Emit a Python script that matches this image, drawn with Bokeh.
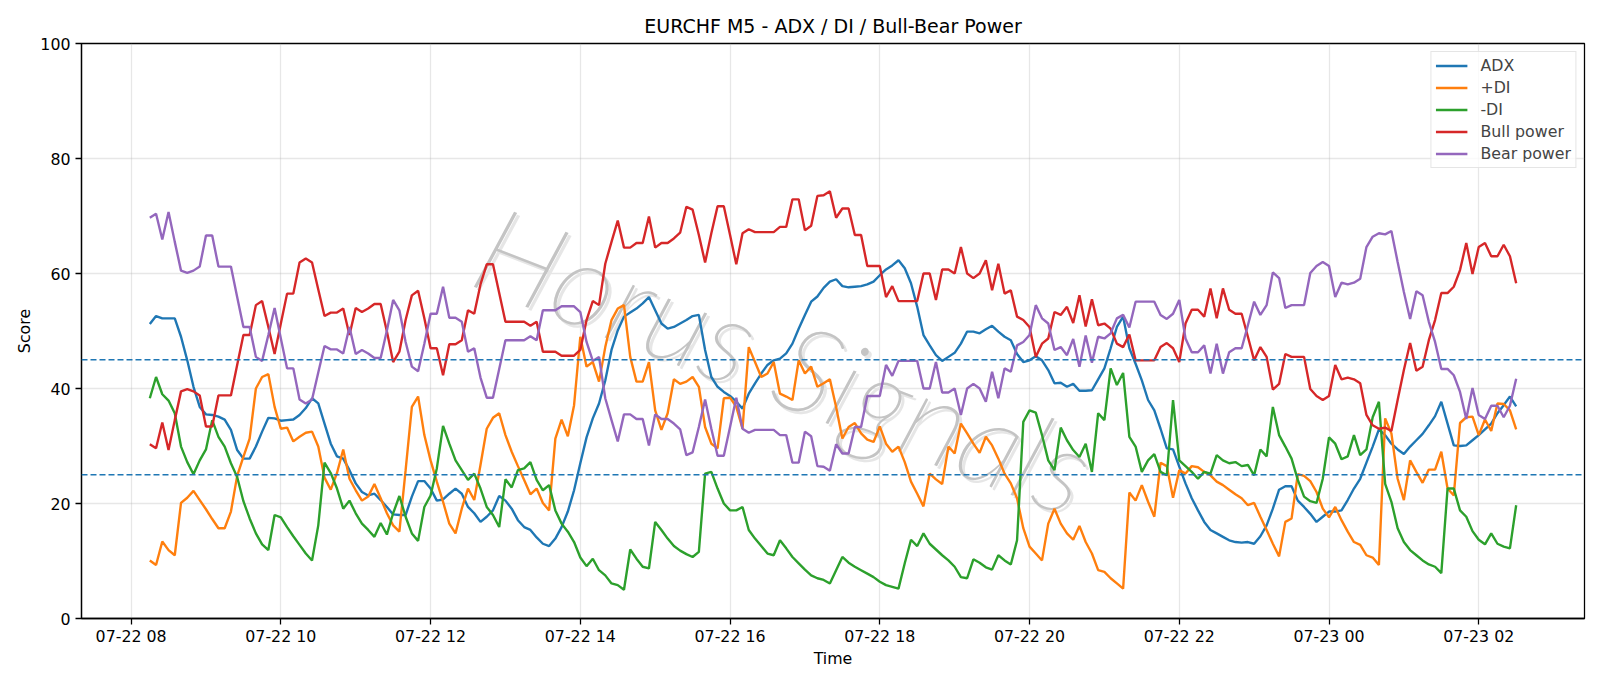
import pandas as pd
from bokeh.plotting import figure
from bokeh.models import (ColumnDataSource, Span, Legend, LegendItem, Label,
                          SingleIntervalTicker, DatetimeTickFormatter, Range1d)
from bokeh.embed import file_html
from bokeh.resources import INLINE

# ---- data: EURCHF 5-minute bars, indicator scores (0-100) ----
title = "EURCHF M5 - ADX / DI / Bull-Bear Power"
start_time = "2025-07-22 08:15"
bar_step = "5min"

adx = [
    51.2, 52.6, 52.2, 52.2, 52.2, 49.0, 44.9, 40.3, 36.8, 35.5, 35.4, 35.1, 34.6, 32.8, 29.3, 27.8,
    27.8, 29.9, 32.5, 34.9, 34.8, 34.4, 34.5, 34.6, 35.4, 36.6, 38.3, 37.4, 33.9, 30.4, 28.2, 27.8, 25.8,
    23.5, 22.0, 21.4, 21.7, 20.6, 19.4, 18.1, 18.0, 18.0, 21.2, 23.9, 23.9, 22.6, 20.5, 20.7, 21.7,
    22.6, 21.7, 19.4, 18.3, 16.8, 17.7, 18.8, 21.3, 20.5, 19.1, 17.1, 15.9, 15.4, 14.1, 13.0, 12.6,
    13.9, 15.9, 18.6, 22.3, 27.0, 31.5,
    34.8, 37.4, 41.4, 46.7, 50.1, 52.5, 53.2, 53.9, 54.8, 55.9, 53.6, 51.3, 50.4, 50.7, 51.3, 51.9,
    52.6, 52.8, 46.7, 42.0, 40.3, 39.4, 38.7, 37.7, 36.5, 39.1, 40.9, 42.6, 44.1, 44.9, 45.2, 46.1,
    47.8, 50.4, 52.8, 55.1, 56.0, 57.5, 58.6,
    59.0, 57.8, 57.6, 57.7, 57.8, 58.1, 58.6, 59.7, 60.7, 61.4, 62.3, 60.9, 58.3, 54.2, 49.3, 47.5,
    45.8, 44.8, 45.5, 46.2, 47.8, 49.9, 49.9, 49.6, 50.3, 50.9, 49.9, 49.0, 48.4, 46.0, 44.6, 44.9,
    45.6, 44.9, 43.2, 40.9, 41.0, 40.3,
    40.8, 39.6, 39.6, 39.7, 41.6, 43.5, 47.0, 50.7, 52.5, 47.0, 44.3, 41.4, 38.0, 36.2, 33.0, 29.6,
    29.4, 26.4, 23.5, 20.9, 18.8, 16.8, 15.4, 14.8, 14.2, 13.6, 13.3, 13.2, 13.3, 13.0, 14.3, 16.2,
    19.1, 22.4, 23.0, 23.0, 20.5, 19.4, 18.2,
    16.8, 17.7, 18.6, 18.6, 18.8, 20.6, 22.6, 24.3, 27.1, 29.9, 32.9, 31.9, 30.4, 29.4, 28.6, 29.9,
    31.0, 32.1, 33.6, 35.2, 37.7, 33.9, 30.1, 30.0, 30.1, 31.0, 31.9, 32.9, 33.9, 35.7, 37.1, 38.6, 36.9,
]

plus_di = [
    10.1, 9.3, 13.4, 11.9, 11.0, 20.1, 21.0, 22.2, 20.6, 19.0, 17.3, 15.7, 15.7, 18.6, 24.8, 28.1,
    31.3, 40.0, 42.0, 42.5, 36.8, 33.0, 33.2, 30.8, 31.6, 32.3, 32.5, 29.9, 24.5, 22.4, 25.3, 29.4, 24.3,
    22.3, 20.5, 21.2, 23.4, 20.9, 18.3, 16.2, 15.1, 25.8, 36.8, 38.6, 31.9, 27.5, 23.8, 20.3, 16.5,
    14.8, 19.1, 22.6, 20.6, 26.7, 33.0, 34.9, 35.7, 31.9, 29.0, 26.5, 24.1, 21.6, 22.6, 20.1, 18.8,
    31.3, 34.6, 31.7, 37.1, 49.0, 43.8,
    44.6, 41.2, 47.2, 51.9, 53.9, 54.5, 45.5, 41.2, 41.2, 44.6, 36.2, 32.8, 35.7, 41.6, 40.8, 41.2,
    42.0, 40.3, 33.3, 30.4, 29.6, 38.3, 38.4, 36.8, 33.0, 47.2, 44.6, 42.0, 42.6, 44.6, 39.1, 38.6,
    38.0, 44.9, 42.6, 43.8, 40.3, 40.9, 41.6,
    36.8, 31.3, 33.3, 34.0, 32.2, 31.1, 30.7, 33.4, 30.4, 29.0, 29.9, 27.2, 23.8, 21.7, 19.5, 25.2,
    24.2, 23.4, 29.9, 28.7, 33.9, 32.2, 30.4, 28.8, 31.6, 30.1, 27.8, 25.2, 23.5, 20.9, 15.7, 12.5,
    11.3, 10.1, 16.5, 19.1, 16.5, 14.8,
    13.7, 16.1, 13.3, 11.3, 8.4, 8.1, 7.0, 6.1, 5.2, 21.9, 20.5, 23.2, 20.3, 17.7, 27.1, 26.5,
    21.0, 25.8, 25.2, 26.5, 26.3, 25.5, 24.9, 23.8, 23.2, 22.4, 21.6, 20.9, 19.7, 20.1, 17.7, 15.4,
    13.0, 10.8, 16.8, 17.4, 25.1, 24.8, 23.9,
    22.0, 19.1, 17.6, 19.4, 17.1, 15.1, 13.3, 12.8, 11.0, 10.6, 9.3, 34.8, 32.2, 24.3, 20.6, 27.5,
    25.5, 23.6, 25.9, 25.9, 29.0, 22.6, 21.4, 34.0, 35.0, 35.1, 31.9, 34.6, 32.6, 37.4, 37.3, 36.2, 32.9,
]

minus_di = [
    38.3, 42.0, 39.0, 37.9, 35.7, 29.9, 27.2, 25.1, 27.5, 29.4, 34.5, 31.6, 29.9, 27.0, 24.6, 20.4,
    17.4, 14.8, 12.9, 11.9, 18.0, 17.6, 15.9, 14.3, 12.8, 11.3, 10.1, 16.2, 27.1, 25.3, 22.6, 19.1, 20.5,
    18.3, 16.5, 15.4, 14.2, 16.6, 14.6, 18.3, 21.3, 17.7, 14.8, 13.5, 19.4, 21.4, 26.1, 33.5, 30.4,
    27.5, 25.8, 24.1, 25.2, 22.6, 19.4, 18.0, 15.9, 24.2, 22.8, 25.8, 26.1, 27.2, 24.1, 22.3, 23.2,
    18.8, 16.5, 15.1, 13.3, 10.6, 9.1,
    10.4, 8.4, 7.5, 6.1, 5.8, 5.0, 12.0, 10.4, 9.0, 8.7, 16.8, 15.4, 13.9, 12.6, 11.8, 11.2,
    10.7, 11.6, 25.2, 25.5, 22.6, 20.0, 18.8, 18.8, 19.4, 15.4, 13.9, 12.6, 11.3, 11.0, 13.6, 12.2,
    10.7, 9.6, 8.5, 7.5, 7.0, 6.7, 6.1,
    8.4, 10.7, 9.7, 9.0, 8.4, 7.8, 7.2, 6.4, 5.8, 5.5, 5.2, 9.6, 13.7, 12.6, 14.8, 13.0,
    12.0, 11.0, 10.1, 9.0, 7.2, 7.0, 10.3, 9.7, 8.9, 8.5, 11.0, 10.1, 9.4, 13.6, 34.2, 36.2,
    35.8, 31.9, 27.5, 25.8, 33.2, 31.0,
    29.3, 28.1, 30.4, 25.5, 35.7, 34.5, 43.5, 40.6, 42.7, 31.6, 29.9, 25.5, 27.5, 28.6, 25.5, 24.9,
    38.0, 27.5, 26.5, 25.5, 24.3, 25.5, 25.2, 28.4, 27.5, 27.0, 27.2, 26.5, 26.7, 24.9, 29.4, 28.2,
    36.8, 31.9, 29.9, 27.8, 24.1, 21.2, 20.4,
    20.1, 24.3, 31.5, 30.4, 27.7, 28.2, 31.9, 28.4, 29.4, 35.0, 37.7, 23.4, 20.3, 15.7, 13.3, 11.9,
    11.0, 10.1, 9.4, 9.0, 7.9, 22.6, 22.6, 18.8, 17.7, 15.2, 13.7, 12.9, 14.8, 13.0, 12.5, 12.2, 19.7,
]

bull_power = [
    30.3, 29.6, 34.1, 29.3, 34.5, 39.5, 39.9, 39.5, 38.8, 33.4, 33.4, 38.8, 38.8, 38.8, 44.1, 49.3,
    49.3, 54.5, 55.2, 50.7, 46.0, 51.3, 56.5, 56.5, 61.9, 62.6, 61.9, 57.2, 52.6, 53.2, 53.2, 53.9, 49.3,
    54.0, 53.3, 53.9, 54.7, 54.7, 49.9, 44.6, 46.4, 51.9, 56.2, 57.0, 52.2, 47.0, 47.0, 42.3, 47.7,
    47.7, 48.4, 53.6, 53.0, 58.1, 61.6, 61.6, 56.6, 51.6, 51.6, 51.6, 51.6, 50.9, 51.6, 46.4, 46.4,
    46.4, 45.7, 45.7, 45.7, 46.7, 51.9,
    55.2, 54.5, 61.7, 65.5, 69.2, 64.5, 64.5, 65.3, 65.3, 69.9, 64.5, 65.3, 65.3, 66.1, 67.1, 71.6,
    71.1, 66.7, 61.9, 67.0, 71.7, 71.7, 66.7, 61.6, 67.0, 67.7, 67.2, 67.2, 67.2, 67.2, 68.1, 68.1,
    72.9, 72.9, 67.5, 68.3, 73.5, 73.6, 74.3,
    69.7, 71.3, 71.3, 66.7, 66.7, 61.3, 61.3, 61.3, 55.9, 57.8, 55.2, 55.2, 55.2, 55.2, 60.0, 60.0,
    55.4, 60.7, 60.7, 60.0, 64.6, 60.0, 59.2, 60.0, 62.3, 57.1, 61.7, 56.5, 57.1, 52.5, 51.9, 50.7,
    45.5, 47.8, 48.7, 53.3, 52.8, 54.2,
    51.4, 56.2, 50.8, 55.5, 51.0, 51.3, 50.4, 47.8, 47.2, 49.4, 44.9, 44.9, 44.9, 44.9, 47.2, 47.9,
    47.0, 44.6, 51.3, 53.7, 53.7, 52.5, 57.4, 52.2, 57.4, 53.7, 53.0, 53.0, 49.0, 44.9, 47.2, 45.5,
    39.8, 40.8, 46.0, 45.5, 45.5, 45.5, 39.9,
    38.7, 38.0, 38.7, 44.1, 41.6, 41.9, 41.6, 40.9, 35.4, 33.6, 33.0, 33.2, 32.6, 38.0, 43.2, 47.9,
    43.1, 43.8, 48.4, 51.9, 56.6, 56.6, 57.7, 60.6, 65.3, 59.9, 64.6, 65.3, 63.0, 63.0, 65.0, 63.0, 58.3,
]

bear_power = [
    69.7, 70.4, 65.9, 70.7, 65.5, 60.5, 60.1, 60.5, 61.2, 66.6, 66.6, 61.2, 61.2, 61.2, 55.9, 50.7,
    50.7, 45.5, 44.8, 49.3, 54.0, 48.7, 43.5, 43.5, 38.1, 37.4, 38.1, 42.8, 47.4, 46.8, 46.8, 46.1, 50.7,
    46.0, 46.7, 46.1, 45.3, 45.3, 50.1, 55.4, 53.6, 48.1, 43.8, 43.0, 47.8, 53.0, 53.0, 57.7, 52.3,
    52.3, 51.6, 46.4, 47.0, 41.9, 38.4, 38.4, 43.4, 48.4, 48.4, 48.4, 48.4, 49.1, 48.4, 53.6, 53.6,
    53.6, 54.3, 54.3, 54.3, 53.3, 48.1,
    44.8, 45.5, 38.3, 34.5, 30.8, 35.5, 35.5, 34.7, 34.7, 30.1, 35.5, 34.7, 34.7, 33.9, 32.9, 28.4,
    28.9, 33.3, 38.1, 33.0, 28.3, 28.3, 33.3, 38.4, 33.0, 32.3, 32.8, 32.8, 32.8, 32.8, 31.9, 31.9,
    27.1, 27.1, 32.5, 31.7, 26.5, 26.4, 25.7,
    30.3, 28.7, 28.7, 33.3, 33.3, 38.7, 38.7, 38.7, 44.1, 42.2, 44.8, 44.8, 44.8, 44.8, 40.0, 40.0,
    44.6, 39.3, 39.3, 40.0, 35.4, 40.0, 40.8, 40.0, 37.7, 42.9, 38.3, 43.5, 42.9, 47.5, 48.1, 49.3,
    54.5, 52.2, 51.3, 46.7, 47.2, 45.8,
    48.6, 43.8, 49.2, 44.5, 49.0, 48.7, 49.6, 52.2, 52.8, 50.6, 55.1, 55.1, 55.1, 55.1, 52.8, 52.1,
    53.0, 55.4, 48.7, 46.3, 46.3, 47.5, 42.6, 47.8, 42.6, 46.3, 47.0, 47.0, 51.0, 55.1, 52.8, 54.5,
    60.2, 59.2, 54.0, 54.5, 54.5, 54.5, 60.1,
    61.3, 62.0, 61.3, 55.9, 58.4, 58.1, 58.4, 59.1, 64.6, 66.4, 67.0, 66.8, 67.4, 62.0, 56.8, 52.1,
    56.9, 56.2, 51.6, 48.1, 43.4, 43.4, 42.3, 39.4, 34.7, 40.1, 35.4, 34.7, 37.0, 37.0, 35.0, 37.0, 41.7,
]

series_labels = ["ADX", "+DI", "-DI", "Bull power", "Bear power"]
series_colors = ["#1f77b4", "#ff7f0e", "#2ca02c", "#d62728", "#9467bd"]
threshold_levels = [45, 25]
watermark_text = "Horus Signals"

# ---- build the figure ----
columns = [adx, plus_di, minus_di, bull_power, bear_power]
keys = ["adx", "plus_di", "minus_di", "bull", "bear"]
n = len(adx)
assert all(len(c) == n for c in columns), [len(c) for c in columns]

times = pd.date_range(start_time, periods=n, freq=bar_step)
source = ColumnDataSource(dict(time=times, **{k: v for k, v in zip(keys, columns)}))

t0 = times[0].value / 1e6
t1 = times[-1].value / 1e6
pad = 0.05 * (t1 - t0)

FONT = "DejaVu Sans"
TICK_PX = "15.8px"

p = figure(width=1600, height=686, x_axis_type="datetime",
           x_range=Range1d(t0 - pad, t1 + pad), y_range=Range1d(0, 100),
           output_backend="svg", toolbar_location=None, title=title)
p.min_border_left = 81
p.min_border_right = 16
p.min_border_top = 43
p.min_border_bottom = 68
p.background_fill_color = "white"
p.border_fill_color = "white"
p.outline_line_color = "black"
p.outline_line_width = 1.27

p.title.text_font = FONT
p.title.text_font_size = "19px"
p.title.text_font_style = "normal"
p.title.align = "center"
p.title.text_color = "black"
p.title.standoff = 14

p.xaxis.ticker = SingleIntervalTicker(interval=2 * 3600 * 1000, num_minor_ticks=0)
fmt = "%m-%d %H"
p.xaxis.formatter = DatetimeTickFormatter(hours=fmt, days=fmt, hourmin=fmt, minutes=fmt,
                                          minsec=fmt, seconds=fmt, months=fmt, years=fmt)
p.yaxis.ticker = SingleIntervalTicker(interval=20, num_minor_ticks=0)

for ax in (p.xaxis[0], p.yaxis[0]):
    ax.axis_line_color = "black"
    ax.axis_line_width = 1.27
    ax.major_tick_line_color = "black"
    ax.major_tick_line_width = 1.27
    ax.major_tick_out = 6
    ax.major_tick_in = 0
    ax.minor_tick_line_color = None
    ax.major_label_standoff = 5
    ax.major_label_text_font = FONT
    ax.major_label_text_font_size = TICK_PX
    ax.major_label_text_color = "black"
    ax.axis_label_text_font = FONT
    ax.axis_label_text_font_size = TICK_PX
    ax.axis_label_text_font_style = "normal"
    ax.axis_label_text_color = "black"
p.xaxis.axis_label = "Time"
p.yaxis.axis_label = "Score"
p.xaxis.major_label_standoff = 2
p.xaxis.axis_label_standoff = 0
p.yaxis.axis_label_standoff = 3

p.grid.grid_line_color = "#b0b0b0"
p.grid.grid_line_alpha = 0.3
p.grid.grid_line_width = 1.27

# watermark across the middle of the plot, beneath the lines: thin grey
# lettering with a faint offset shadow
WM_FONT = "Lato Thin, Lato Light, Lato, DejaVu Sans, sans-serif"
wm_x = t0 + 0.465 * (t1 - t0)
wm_y = 45.3
for color, dx, dy in (("#e6e6e6", 3, -3), ("#c4c4c4", 0, 0)):
    p.add_layout(Label(x=wm_x, y=wm_y, x_offset=dx, y_offset=dy, text=watermark_text,
                       angle=-0.37, text_align="center", text_baseline="middle",
                       text_font=WM_FONT, text_font_style="italic", text_font_size="120px",
                       text_color=color, level="underlay"))

renderers = []
for k, c in zip(keys, series_colors):
    renderers.append(p.line(x="time", y=k, source=source, line_color=c, line_width=2.38))

for lvl in threshold_levels:
    p.add_layout(Span(location=lvl, dimension="width", line_color="#1f77b4",
                      line_dash="6 3", line_width=1.6))

legend = Legend(items=[LegendItem(label=l, renderers=[r]) for l, r in zip(series_labels, renderers)],
                location="top_right")
legend.label_text_font = FONT
legend.label_text_font_size = TICK_PX
legend.glyph_width = 32
legend.glyph_height = 15
legend.label_height = 15
legend.spacing = 3
legend.padding = 4
legend.margin = 8
legend.label_standoff = 13
legend.border_line_color = "#cccccc"
legend.border_line_width = 1
legend.background_fill_alpha = 0.8
p.add_layout(legend)

open("out.html", "w").write(file_html(p, INLINE))
